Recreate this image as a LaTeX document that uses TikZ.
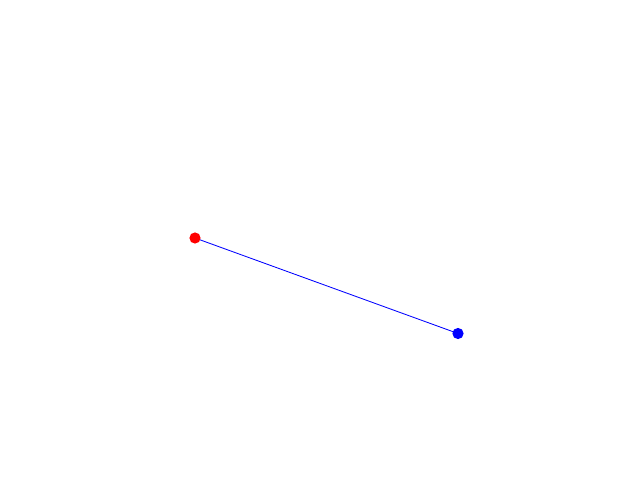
\documentclass[tikz,border=0pt]{standalone}
\usepackage{tikz}
\usetikzlibrary{positioning}
\tikzset{
  dot/.style={circle, inner sep=0pt, minimum size=0.28cm},
  link/.style={blue, line width=0.6pt}
}
\begin{document}
\begin{tikzpicture}[x=0.025cm, y=-0.025cm]
  % frame of the page
  \useasboundingbox (0,0) rectangle (640,480);
  % end points
  \coordinate (startpos) at (195,238);
  \coordinate (endpos) at (458,333.5);
  % segment
  \draw[link] (startpos) -- (endpos);
  % markers
  \node[dot, fill=red] (start) at (startpos) {};
  \node[dot, fill=blue] (end) at (endpos) {};
\end{tikzpicture}
\end{document}
